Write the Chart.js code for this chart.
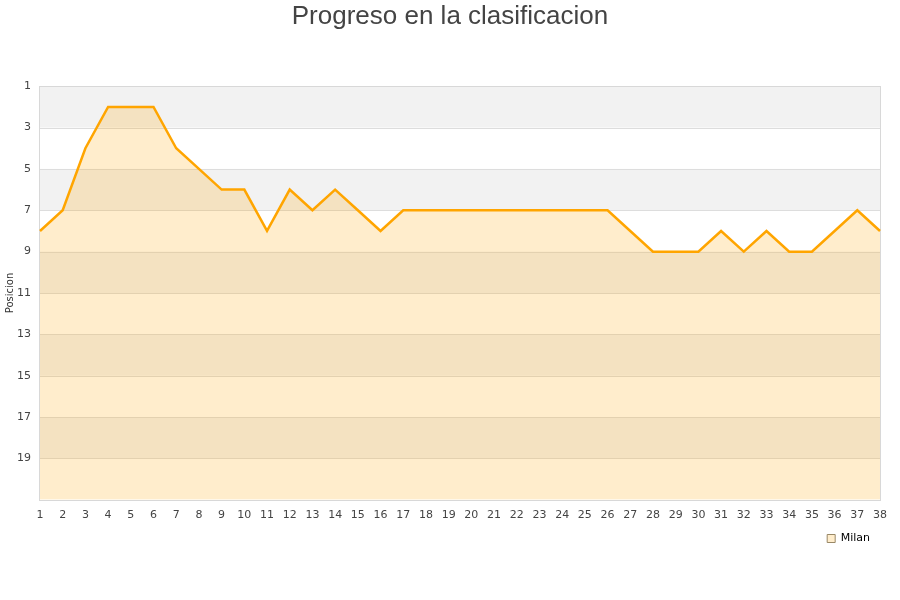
<!DOCTYPE html>
<html>
<head>
<meta charset="utf-8">
<script src="https://cdn.jsdelivr.net/npm/chart.js@4/dist/chart.umd.min.js"></script>
<style>
  html, body { margin: 0; padding: 0; background: #fff; }
  #wrap { width: 900px; height: 600px; }
</style>
</head>
<body>
<div id="wrap"><canvas id="posChart"></canvas></div>
<script>
// Jornadas y posicion del Milan
var jornadas = [];
for (var j = 1; j <= 38; j++) jornadas.push(String(j));
var posiciones = [8, 7, 4, 2, 2, 2, 4, 5, 6, 6, 8, 6, 7, 6, 7, 8, 7, 7, 7, 7,
                  7, 7, 7, 7, 7, 7, 8, 9, 9, 9, 8, 9, 8, 9, 9, 8, 7, 8];
var yTicks = [1, 3, 5, 7, 9, 11, 13, 15, 17, 19];

// franjas grises alternas detras del grafico
var bandas = {
    id: 'bandas',
    beforeDatasetsDraw: function (chart) {
        var ctx = chart.ctx, area = chart.chartArea, y = chart.scales.y;
        ctx.save();
        for (var v = 1; v < 21; v += 4) {
            var top = y.getPixelForValue(v), bot = y.getPixelForValue(v + 2);
            ctx.fillStyle = '#f2f2f2';
            ctx.fillRect(area.left, top, area.right - area.left, bot - top);
        }
        // lineas de la rejilla
        ctx.strokeStyle = '#dddddd';
        ctx.lineWidth = 1;
        yTicks.forEach(function (t) {
            var py = Math.round(y.getPixelForValue(t)) + 0.5;
            ctx.beginPath();
            ctx.moveTo(area.left, py);
            ctx.lineTo(area.right, py);
            ctx.stroke();
        });
        ctx.strokeStyle = '#d8d8d8';
        ctx.strokeRect(Math.round(area.left) - 0.5, Math.round(area.top) + 0.5,
                       Math.round(area.right - area.left) + 1, Math.round(area.bottom - area.top));
        ctx.restore();
    }
};

var ctx = document.getElementById('posChart').getContext('2d');
var posChart = new Chart(ctx, {
    type: 'line',
    data: {
        labels: jornadas,
        datasets: [{
            label: 'Milan',
            data: posiciones,
            borderColor: '#ffa500',
            backgroundColor: 'rgba(255, 165, 0, 0.2)',
            borderWidth: 2.5,
            pointRadius: 0,
            tension: 0,
            fill: { value: 21 }
        }]
    },
    options: {
        responsive: true,
        maintainAspectRatio: false,
        animation: false,
        layout: { padding: { left: 2, right: 2, top: 1, bottom: 46 } },
        plugins: {
            title: {
                display: true,
                text: 'Progreso en la clasificacion',
                color: '#444',
                font: { family: 'Liberation Sans', size: 26, weight: 'normal' },
                padding: { top: 0, bottom: 54 }
            },
            legend: {
                position: 'bottom',
                align: 'end',
                fullSize: false,
                labels: {
                    boxWidth: 8,
                    boxHeight: 8,
                    padding: 10,
                    color: '#111',
                    font: { family: 'DejaVu Sans', size: 11 },
                    generateLabels: function () {
                        return [{ text: 'Milan', fillStyle: 'rgba(255, 165, 0, 0.2)',
                                  strokeStyle: '#998866', lineWidth: 1, datasetIndex: 0 }];
                    }
                }
            },
            tooltip: { enabled: false }
        },
        scales: {
            x: {
                offset: false,
                grid: { display: false },
                border: { display: false },
                ticks: {
                    autoSkip: false, maxRotation: 0, color: '#444', padding: 1,
                    font: { family: 'DejaVu Sans', size: 11 }
                }
            },
            y: {
                reverse: true,
                min: 1,
                max: 21,
                grid: { display: false, drawTicks: false },
                border: { display: false },
                afterBuildTicks: function (axis) {
                    axis.ticks = yTicks.map(function (v) { return { value: v }; });
                },
                afterFit: function (axis) { axis.width = 38; },
                ticks: {
                    color: '#444', padding: 9,
                    font: { family: 'DejaVu Sans', size: 11 }
                },
                title: {
                    display: true,
                    text: 'Posicion',
                    color: '#333',
                    font: { family: 'DejaVu Sans', size: 10 },
                    padding: 2
                }
            },
            // eje vacio a la derecha, solo para dejar margen
            margen: {
                type: 'linear',
                position: 'right',
                grid: { display: false, drawTicks: false },
                border: { display: false },
                ticks: { display: false },
                afterFit: function (axis) { axis.width = 18; }
            }
        }
    },
    plugins: [bandas]
});
</script>
</body>
</html>
